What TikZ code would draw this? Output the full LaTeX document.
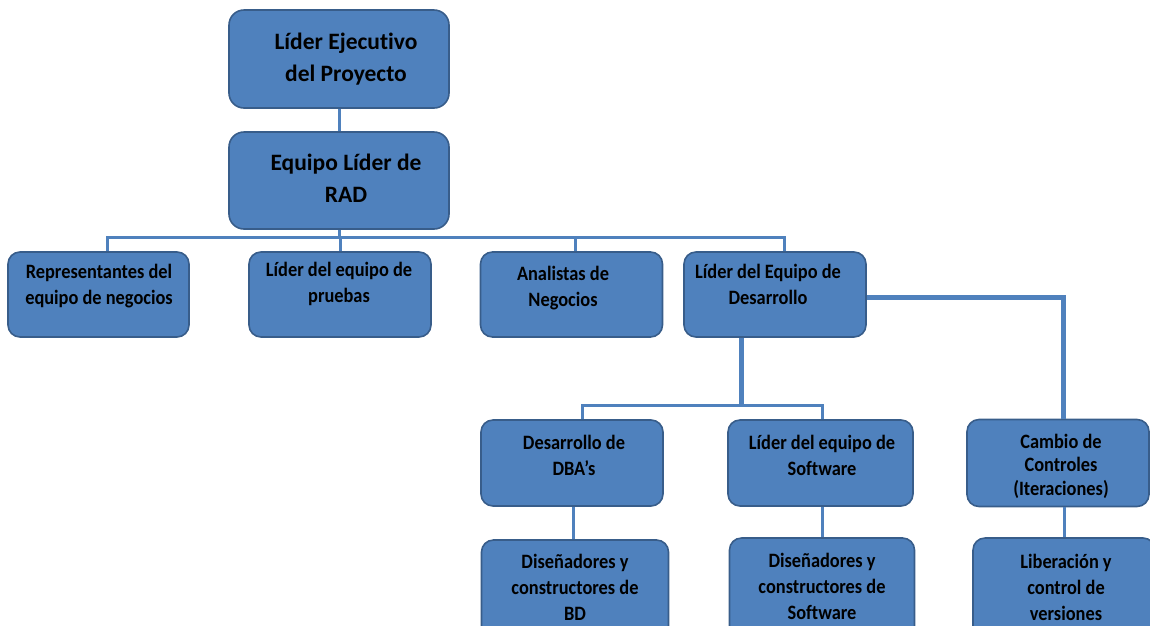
\documentclass[tikz,border=0pt]{standalone}
\usepackage{fontspec}
\setmainfont{Carlito}[RawFeature=-liga]
\newfontfamily\rowfont{Carlito}[RawFeature=-liga, FakeStretch=0.9]
\usetikzlibrary{calc}
\definecolor{boxfill}{HTML}{4F81BD}
\definecolor{boxline}{HTML}{385D8A}
\definecolor{linkcol}{HTML}{4F81BD}
\begin{document}
\begin{tikzpicture}[x=1pt,y=-1pt,
  box/.style={draw=boxline, fill=boxfill, line width=1.6pt, rounded corners=12pt, inner sep=0pt},
  bigtxt/.style={align=center, font=\bfseries\fontsize{23.5}{31.5}\selectfont, inner sep=0pt},
  txt/.style={align=center, font=\rowfont\bfseries\fontsize{20.4}{26}\selectfont, inner sep=0pt},
  conn/.style={draw=linkcol, line width=3pt},
  thickconn/.style={draw=linkcol, line width=5pt}]
\useasboundingbox (0,0) rectangle (1150,625);

% top levels
\node[box, minimum width=220pt, minimum height=98pt, rounded corners=15pt] (exe) at (339,59) {};
\node[box, minimum width=220pt, minimum height=97pt, rounded corners=15pt] (rad) at (339,180.5) {};

% second row
\node[box, minimum width=181pt, minimum height=85pt] (rep) at (98.5,294.5) {};
\node[box, minimum width=182pt, minimum height=85pt] (pru) at (340,294.5) {};
\node[box, minimum width=182pt, minimum height=85pt] (ana) at (571.5,294.5) {};
\node[box, minimum width=182pt, minimum height=85pt] (des) at (775,294.5) {};

% third row
\node[box, minimum width=182pt, minimum height=86pt] (dba) at (572,463) {};
\node[box, minimum width=185pt, minimum height=86pt] (lsw) at (820.5,463) {};
\node[box, minimum width=182pt, minimum height=87pt] (cam) at (1058,463) {};

% fourth row (runs past the lower edge)
\node[box, minimum width=187pt, minimum height=110pt] (bd) at (575,595) {};
\node[box, minimum width=185pt, minimum height=110pt] (dsw) at (822,593) {};
\node[box, minimum width=182pt, minimum height=110pt] (lib) at (1064,593) {};

% labels
\node[bigtxt] (exe-t) at (346,59) {Líder Ejecutivo\\del Proyecto};
\node[bigtxt] (rad-t) at (346,178) {Equipo Líder de\\RAD};
\node[txt] (rep-t) at (99,286) {Representantes del\\equipo de negocios};
\node[txt] (pru-t) at (339,284) {Líder del equipo de\\pruebas};
\node[txt] (ana-t) at (563,288) {Analistas de\\Negocios};
\node[txt] (des-t) at (768,284) {Líder del Equipo de\\Desarrollo};
\node[txt] (dba-t) at (574,455.5) {Desarrollo de\\DBA’s};
\node[txt] (lsw-t) at (822,455.5) {Líder del equipo de\\Software};
\node[txt, font=\rowfont\bfseries\fontsize{20.4}{23.5}\selectfont] (cam-t) at (1061,466) {Cambio de\\Controles\\(Iteraciones)};
\node[txt] (bd-t) at (575,587) {Diseñadores y\\constructores de\\BD};
\node[txt] (dsw-t) at (822,586) {Diseñadores y\\constructores de\\Software};
\node[txt] (lib-t) at (1066,587) {Liberación y\\control de\\versiones};

% connectors
\coordinate (busL) at (107,237);
\coordinate (busR) at (784,237);
\coordinate (anaTop) at ($(ana.north)+(3.5,0)$);
\draw[conn] (exe.south) -- (rad.north);
\draw[conn] (rad.south) -- (rad.south |- busL);
\draw[conn] ($(rep.north)+(8.5,0)$) -- (busL) -- (busR) -- ($(des.north)+(9,0)$);
\draw[conn] (pru.north) -- (pru.north |- busL);
\draw[conn] (anaTop) -- (anaTop |- busL);

\coordinate (devbus) at (741,405);
\draw[thickconn] ($(des.south)+(-34,0)$) -- (devbus);
\draw[conn] ($(dba.north)+(10,0)$) |- (devbus) -| ($(lsw.north)+(1.5,0)$);
\draw[thickconn] ($(des.east)+(0,3)$) -| ($(cam.north)+(5,0)$);

\coordinate (dbaBot) at ($(dba.south)+(1,0)$);
\draw[conn] (dbaBot) -- (dbaBot |- bd.north);
\draw[conn] (dsw.north |- lsw.south) -- (dsw.north);
\draw[conn] (lib.north |- cam.south) -- (lib.north);
\end{tikzpicture}
\end{document}
